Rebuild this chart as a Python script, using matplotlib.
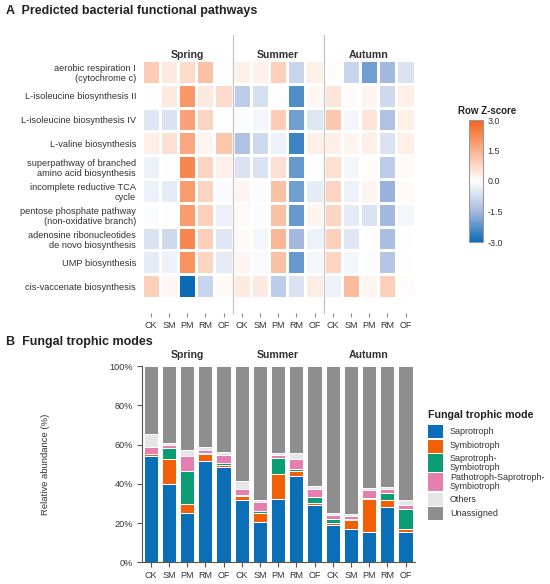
import matplotlib
matplotlib.use("Agg")
import matplotlib.pyplot as plt
import numpy as np
from matplotlib.colors import LinearSegmentedColormap
from matplotlib.patches import Rectangle

plt.rcParams['font.family'] = ['Liberation Sans', 'DejaVu Sans']

# ---------------- data ----------------
seasons = ["Spring", "Summer", "Autumn"]
treatments = ["CK", "SM", "PM", "RM", "OF"]
col_labels = treatments * 3

pathways = [
    "aerobic respiration I\n(cytochrome c)",
    "L-isoleucine biosynthesis II",
    "L-isoleucine biosynthesis IV",
    "L-valine biosynthesis",
    "superpathway of branched\namino acid biosynthesis",
    "incomplete reductive TCA\ncycle",
    "pentose phosphate pathway\n(non-oxidative branch)",
    "adenosine ribonucleotides\nde novo biosynthesis",
    "UMP biosynthesis",
    "cis-vaccenate biosynthesis",
]

z_aerobic = [1.0, 0.4, 0.7, 1.2, 0.0, 0.3, 0.3, 0.9, -0.9, 0.3, 0.05, -0.9, -2.0, -1.5, -0.6]
z_ile2 = [0.0, 0.4, 2.0, 0.4, 0.7, -1.1, -0.7, 0.0, -2.3, 0.15, 0.5, 0.05, 0.2, -0.8, 0.3]
z_ile4 = [-0.5, -0.6, 1.8, 0.8, 0.0, -0.05, -0.2, 1.0, -2.0, -0.5, 1.1, -0.2, 0.5, -1.3, 0.3]
z_val = [0.3, 0.6, 1.7, 0.2, 1.1, -1.3, -0.8, -0.3, -2.5, 0.3, 0.3, 0.2, 0.3, -0.6, 0.3]
z_super = [-0.3, 0.0, 2.3, 0.8, 0.3, -0.6, -0.6, 0.6, -2.1, 0.0, 0.6, -0.2, 0.05, -1.1, 0.1]
z_tca = [-0.3, -0.4, 1.9, 0.8, -0.1, 0.2, -0.05, 1.2, -2.0, -0.4, 0.8, -0.3, 0.2, -1.6, 0.1]
z_pentose = [-0.05, 0.0, 1.9, 0.9, -0.35, 0.1, -0.05, 1.2, -2.1, 0.2, 0.8, -0.4, -0.6, -1.5, -0.2]
z_adenosine = [-0.6, -0.8, 2.3, 0.9, -0.5, 0.1, -0.2, 1.4, -1.5, -0.3, 0.9, -0.5, 0.0, -1.4, 0.0]
z_ump = [-0.4, -0.3, 2.1, 0.8, -0.4, 0.2, -0.1, 1.2, -2.1, -0.2, 0.8, -0.2, -0.05, -1.2, 0.0]
z_cisvac = [0.9, 0.15, -3.0, -0.9, 0.1, 0.4, 0.4, -1.1, -0.6, 0.35, -0.3, 1.3, 0.2, 0.9, 0.05]

modes = ["Saprotroph", "Symbiotroph", "Saprotroph-\nSymbiotroph",
         "Pathotroph-Saprotroph-\nSymbiotroph", "Others", "Unassigned"]
saprotroph = [54.0, 39.7, 25.1, 51.4, 48.5, 31.7, 20.7, 32.1, 44.1, 29.0, 18.8, 17.1, 15.6, 28.0, 15.4]
symbiotroph = [1.0, 12.9, 4.4, 3.8, 1.1, 2.1, 4.3, 12.7, 2.6, 1.2, 1.1, 4.4, 16.5, 3.6, 1.4]
sap_sym = [0.3, 5.8, 16.9, 0.4, 1.0, 0.5, 1.0, 8.5, 0.8, 2.9, 2.3, 0.5, 0.8, 3.9, 10.2]
path_sap_sym = [3.2, 1.4, 7.9, 1.6, 3.9, 3.2, 4.6, 1.2, 5.1, 4.2, 1.9, 1.6, 3.9, 1.7, 2.2]
others = [7.0, 0.8, 2.9, 1.5, 1.7, 4.1, 1.0, 1.0, 2.9, 1.6, 1.0, 1.0, 1.2, 1.3, 2.7]
unassigned = [34.5, 39.4, 42.8, 41.3, 43.8, 58.4, 68.4, 44.5, 44.5, 61.1, 74.9, 75.4, 62.0, 61.5, 68.1]

mode_colors = ["#0a6fb6", "#f15f07", "#0b9e74", "#e67fb1", "#e6e6e6", "#8e8e8e"]

# ---------------- figure ----------------
W, H = 550, 584
fig = plt.figure(figsize=(W / 100, H / 100), dpi=100)

def fx(px):
    return px / W

def fy(py):
    return 1 - py / H

txt = "#333333"

# ---------------- heatmap ----------------
Z = np.array([z_aerobic, z_ile2, z_ile4, z_val, z_super, z_tca,
              z_pentose, z_adenosine, z_ump, z_cisvac])
cmap = LinearSegmentedColormap.from_list(
    "bwo", [(0.0, "#0a6bb4"), (0.25, "#a4b9df"), (0.5, "#ffffff"),
            (0.75, "#fab28e"), (1.0, "#f6621a")])

hx0, hx1 = 141.6, 414.6
hy0, hy1 = 60, 298
ax = fig.add_axes([fx(hx0), fy(hy1), fx(hx1) - fx(hx0), fy(hy0) - fy(hy1)])
xe = np.arange(len(col_labels) + 1) - 0.5
ye = np.arange(len(pathways) + 1) - 0.5
mesh = ax.pcolormesh(xe, ye, Z, cmap=cmap, vmin=-3, vmax=3,
                     edgecolors="white", linewidth=0.8)
ax.set_xlim(-0.5, len(col_labels) - 0.5)
ax.set_ylim(len(pathways) - 0.5, -0.5)
for s in ["top", "right", "left"]:
    ax.spines[s].set_visible(False)
ax.spines["bottom"].set_position(("outward", 10.8))
ax.spines["bottom"].set_visible(False)
ax.set_xticks(range(len(col_labels)))
ax.set_xticklabels(col_labels, fontsize=6.5, color=txt)
ax.tick_params(axis="x", length=3, width=0.8, color="#888888", pad=2.5)
ax.set_yticks(range(len(pathways)))
ax.set_yticklabels(pathways, fontsize=6.7, color=txt, linespacing=1.15)
ax.tick_params(axis="y", length=0, pad=4)
for b in [4.5, 9.5]:
    ax.axvline(b, ymin=-0.063, ymax=1.105, clip_on=False, color="#c4c4c4",
               lw=0.9, zorder=5)
for i, s in enumerate(seasons):
    ax.text(2 + 5 * i, 1.021, s, transform=ax.get_xaxis_transform(),
            ha="center", va="center", fontsize=7.6, fontweight="bold", color=txt)

# colorbar
cax = fig.add_axes([fx(469), fy(242), fx(483) - fx(469), fy(120) - fy(242)])
cb = fig.colorbar(mesh, cax=cax, ticks=[-3, -1.5, 0, 1.5, 3])
cb.ax.set_yticklabels(["-3.0", "-1.5", "0.0", "1.5", "3.0"], fontsize=6.4, color=txt)
cb.ax.tick_params(length=0, pad=3)
cb.outline.set_edgecolor("#9a9a9a")
cb.outline.set_linewidth(0.8)
fig.text(fx(487), fy(111), "Row Z-score", ha="center", va="center",
         fontsize=7, fontweight="bold", color="#222222")

# ---------------- bar chart ----------------
by0, by1 = 366, 562.3
ax2 = fig.add_axes([fx(hx0), fy(by1), fx(hx1) - fx(hx0), fy(by0) - fy(by1)])
x = np.arange(len(col_labels))
bottom = np.zeros(len(col_labels))
series = [saprotroph, symbiotroph, sap_sym, path_sap_sym, others, unassigned]
for vals, c in zip(series, mode_colors):
    ax2.bar(x, vals, bottom=bottom, width=0.78, color=c,
            edgecolor="white", linewidth=0.7)
    bottom = bottom + np.array(vals)
ax2.set_xlim(-0.5, len(col_labels) - 0.5)
ax2.set_ylim(0, 100)
ax2.set_yticks([0, 20, 40, 60, 80, 100])
ax2.set_yticklabels(["0%", "20%", "40%", "60%", "80%", "100%"], fontsize=6.6, color=txt)
ax2.set_xticks(x)
ax2.set_xticklabels(col_labels, fontsize=6.5, color=txt)
for s in ["top", "right"]:
    ax2.spines[s].set_visible(False)
for s in ["left", "bottom"]:
    ax2.spines[s].set_color("#555555")
    ax2.spines[s].set_linewidth(0.8)
ax2.tick_params(axis="both", length=3.5, width=0.8, color="#555555", pad=2.5)
ax2.set_ylabel("Relative abundance (%)", fontsize=6.8, color=txt)
ax2.yaxis.set_label_coords((50 - hx0) / (hx1 - hx0), 0.5)
for i, s in enumerate(seasons):
    ax2.text(2 + 5 * i, 1.056, s, transform=ax2.get_xaxis_transform(),
             ha="center", va="center", fontsize=7.6, fontweight="bold", color=txt)

# legend for bar chart (drawn manually to mimic taller two-line keys)
fig.text(fx(428), fy(415), "Fungal trophic mode", ha="left", va="center",
         fontsize=7.7, fontweight="bold", color="#222222")
key_spans = [(425, 438), (439.5, 452.5), (454, 471.5), (473, 491), (492.5, 505.5), (507, 519.5)]
for (ya, yb), lab, c in zip(key_spans, modes, mode_colors):
    fig.add_artist(Rectangle((fx(428), fy(yb)), fx(443) - fx(428), fy(ya) - fy(yb),
                             transform=fig.transFigure, facecolor=c, edgecolor="none"))
    fig.text(fx(450), fy((ya + yb) / 2), lab, ha="left", va="center",
             fontsize=6.5, color=txt, linespacing=1.0)

# panel titles
fig.text(fx(6.5), fy(11), "A  Predicted bacterial functional pathways", ha="left",
         va="center", fontsize=9, fontweight="bold", color="#222222")
fig.text(fx(6.5), fy(342), "B  Fungal trophic modes", ha="left",
         va="center", fontsize=9, fontweight="bold", color="#222222")

fig.savefig("out.png", dpi=100)
